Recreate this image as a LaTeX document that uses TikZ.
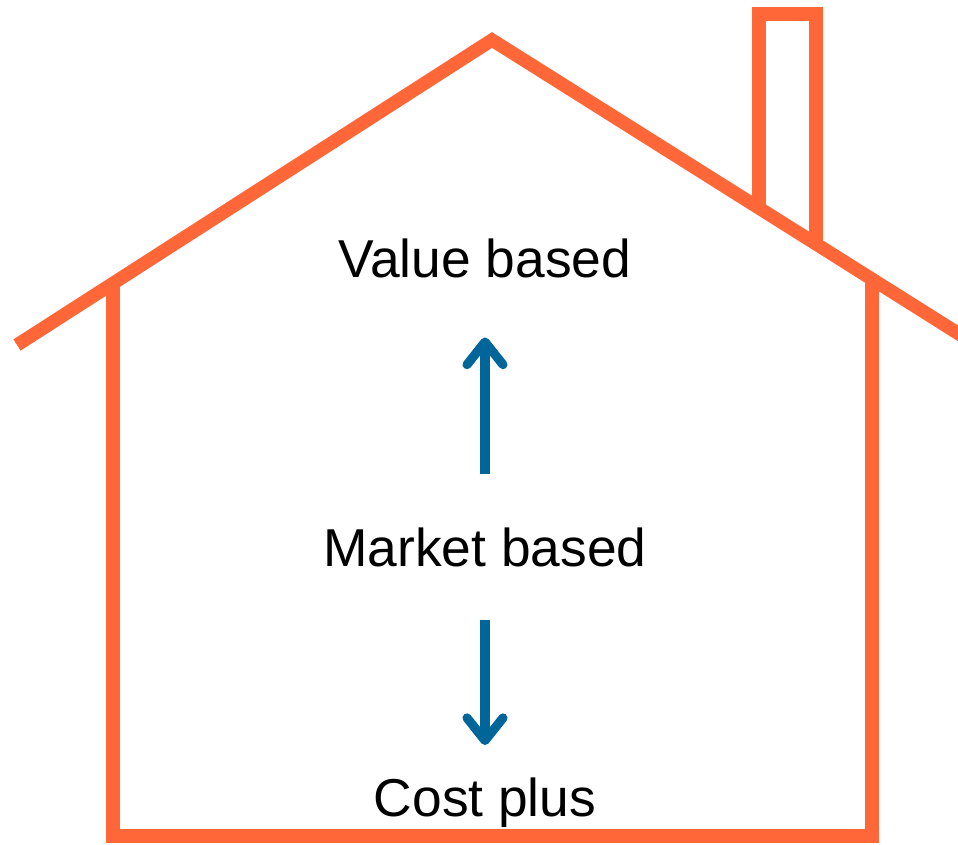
\documentclass[tikz,border=0pt]{standalone}
\usepackage{fontspec}
\setmainfont{Liberation Sans}
\definecolor{houseorange}{RGB}{255, 102, 56}
\definecolor{arrowblue}{RGB}{0, 102, 153}
\usetikzlibrary{arrows.meta, positioning}

\tikzset{
  wall/.style={draw=houseorange, line width=10pt, line join=miter},
  pricing/.style={font=\fontsize{40}{48}\selectfont, text=black, inner sep=0pt, anchor=base},
  shift arrow/.style={draw=arrowblue, line width=6.8pt,
    -{Straight Barb[length=17pt, width=27pt, line cap=round, line join=round]}}
}

\begin{document}
\begin{tikzpicture}[x=0.75pt, y=-0.75pt]
          \useasboundingbox (0, 0) rectangle (958, 845);
          % house outline
          \draw[wall] (17, 345) -- (492, 40) -- (975, 344);
          \draw[wall] (113, 284) -- (113, 836) -- (872, 836) -- (872, 279);
          \draw[wall] (759, 209) -- (759, 14) -- (816, 14) -- (816, 244);
          % pricing approaches
          \node[pricing] (value)  at (485, 278) {Value based};
          \node[pricing] (market) at (485, 566) {Market based};
          \node[pricing] (cost)   at (485, 816) {Cost plus};
          \draw[shift arrow, shorten <=40pt, shorten >=44pt] (market.north) -- (market.north |- value.south);
          \draw[shift arrow, shorten <=40pt, shorten >=24pt] (market.south) -- (market.south |- cost.north);
        \end{tikzpicture}
\end{document}
